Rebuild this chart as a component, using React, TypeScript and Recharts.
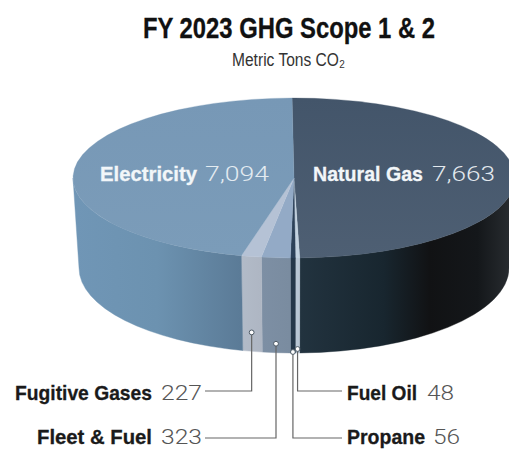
import React from "react";
import { PieChart, Pie } from "recharts";

const categories = ["Natural Gas", "Fuel Oil", "Propane", "Fleet & Fuel", "Fugitive Gases", "Electricity"];
const emissions = [7663, 48, 56, 323, 227, 7094];
const valueLabels = ["7,663", "48", "56", "323", "227", "7,094"];

const tableData = categories.map((name, i) => ({ name, value: emissions[i], valueLabel: valueLabels[i] }));

const topColors = ["url(#top0)", "#c3d2e0", "#2c4159", "#93aac6", "#b5c2d5", "url(#top5)"];
const wallColors = ["url(#wall0)", "#b8c6d4", "#243749", "url(#wall3)", "url(#wall4)", "url(#wall5)"];

const RX = 221;
const RY = 80;
const BOTTOM_RX = 215;
const BOTTOM_RY = 85;
const BOTTOM_DY = 90;

const CN = "'Liberation Sans Narrow', 'Liberation Sans', sans-serif";
const LIGHT = "Roboto, 'Open Sans', sans-serif";

const rad = (a: number) => (a * Math.PI) / 180;

function SliceShape(props: any) {
  const { cx, cy, startAngle, endAngle, index } = props;
  const pt = (a: number, rx: number, ry: number, oy: number) =>
    `${cx + rx * Math.cos(rad(a))} ${cy + oy - ry * Math.sin(rad(a))}`;
  const large = Math.abs(startAngle - endAngle) > 180 ? 1 : 0;
  const top = `M${cx} ${cy} L${pt(startAngle, RX, RY, 0)} A${RX} ${RY} 0 ${large} 1 ${pt(endAngle, RX, RY, 0)} Z`;
  const s = Math.min(startAngle, 0);
  const e = Math.max(endAngle, -180);
  const wall =
    s > e
      ? `M${pt(s, RX, RY, 0)} A${RX} ${RY} 0 0 1 ${pt(e, RX, RY, 0)} L${pt(e, BOTTOM_RX, BOTTOM_RY, BOTTOM_DY)} A${BOTTOM_RX} ${BOTTOM_RY} 0 0 0 ${pt(s, BOTTOM_RX, BOTTOM_RY, BOTTOM_DY)} Z`
      : null;
  return (
    <g>
      {wall && <path d={wall} fill={wallColors[index]} stroke={wallColors[index]} strokeWidth={0.4} />}
      <path d={top} fill={topColors[index]} stroke={topColors[index]} strokeWidth={0.3} />
    </g>
  );
}

const labelLayout: Record<string, any> = {
  "Natural Gas": { x: 313, w: 110, vx: 432, vw: 63, y: 181, fill: "#f2f6f9", vfill: "#e3e9ee", size: 21 },
  Electricity: { x: 100, w: 97, vx: 205, vw: 64, y: 181, fill: "#f2f6f9", vfill: "#e3ebf1", size: 21 },
  "Fugitive Gases": { x: 15, w: 137, vx: 161, vw: 41, y: 400, fill: "#1a1a1a", vfill: "#555", size: 21, ly: 391, lx: 205, dotY: 19 },
  "Fleet & Fuel": { x: 37, w: 115, vx: 161, vw: 41, y: 444, fill: "#1a1a1a", vfill: "#555", size: 21, ly: 438, lx: 205, dotY: 9 },
  "Fuel Oil": { x: 347, w: 70, vx: 427, vw: 27, y: 400, fill: "#1a1a1a", vfill: "#555", size: 21, ly: 391, lx: 342, dotY: 4 },
  Propane: { x: 347, w: 78, vx: 433, vw: 27, y: 444, fill: "#1a1a1a", vfill: "#555", size: 21, ly: 438, lx: 342, dotY: 1 },
};

function SliceLabel(props: any) {
  const { cx, cy, midAngle, name, payload } = props;
  const l = labelLayout[name];
  let leader = null;
  if (l.ly) {
    const px = cx + BOTTOM_RX * Math.cos(rad(midAngle)) * 1.02;
    const py = cy + BOTTOM_DY - BOTTOM_RY * Math.sin(rad(midAngle)) - l.dotY;
    leader = (
      <g>
        <path d={`M${px} ${py} V${l.ly} H${l.lx}`} fill="none" stroke="#666" strokeWidth={1.2} />
        <circle cx={px} cy={py} r={2.4} fill="#fff" stroke="#4d5a66" strokeWidth={1} />
      </g>
    );
  }
  return (
    <g>
      {leader}
      <text x={l.x} y={l.y} textLength={l.w} lengthAdjust="spacingAndGlyphs" fontFamily={CN} fontWeight={700} fontSize={l.size} fill={l.fill} stroke={l.fill} strokeWidth={0.3}>
        {name}
      </text>
      <text x={l.vx} y={l.y} textLength={l.vw} lengthAdjust="spacingAndGlyphs" fontFamily={LIGHT} fontWeight={300} fontSize={l.size} fill={l.vfill}>
        {payload.valueLabel}
      </text>
    </g>
  );
}

export default function App() {
  return (
    <div style={{ position: "absolute", left: 0, top: 0, width: 509, height: 449, overflow: "hidden", background: "#fff" }}>
      <PieChart width={509} height={449} margin={{ top: 0, right: 0, bottom: 0, left: 0 }}>
        <defs>
          <linearGradient id="top0" x1="0" y1="0" x2="0" y2="1">
            <stop offset="0" stopColor="#43556a" />
            <stop offset="1" stopColor="#4e5f73" />
          </linearGradient>
          <linearGradient id="top5" x1="0" y1="0" x2="0" y2="1">
            <stop offset="0" stopColor="#7798b6" />
            <stop offset="1" stopColor="#7b9cb9" />
          </linearGradient>
          <linearGradient id="wall0" gradientUnits="userSpaceOnUse" x1="300" y1="0" x2="509" y2="0">
            <stop offset="0" stopColor="#22333f" />
            <stop offset="0.4" stopColor="#18262f" />
            <stop offset="0.62" stopColor="#111214" />
            <stop offset="0.85" stopColor="#14171a" />
            <stop offset="1" stopColor="#272b2f" />
          </linearGradient>
          <linearGradient id="wall3" gradientUnits="userSpaceOnUse" x1="262" y1="0" x2="289" y2="0">
            <stop offset="0" stopColor="#7d8fa4" />
            <stop offset="1" stopColor="#7a8ca0" />
          </linearGradient>
          <linearGradient id="wall4" gradientUnits="userSpaceOnUse" x1="240" y1="0" x2="262" y2="0">
            <stop offset="0" stopColor="#b2bbc8" />
            <stop offset="1" stopColor="#aeb6c3" />
          </linearGradient>
          <linearGradient id="wall5" gradientUnits="userSpaceOnUse" x1="75" y1="0" x2="240" y2="0">
            <stop offset="0" stopColor="#7096b6" />
            <stop offset="0.5" stopColor="#6c92b0" />
            <stop offset="1" stopColor="#5b7b97" />
          </linearGradient>
        </defs>
        <text x={143} y={38} textLength={292} lengthAdjust="spacingAndGlyphs" fontFamily={CN} fontWeight={700} fontSize={29} fill="#111" stroke="#111" strokeWidth={0.3}>
          FY 2023 GHG Scope 1 &amp; 2
        </text>
        <text x={232} y={66} textLength={113} lengthAdjust="spacingAndGlyphs" fontFamily={CN} fontSize={18} fill="#333">
          Metric Tons CO₂
        </text>
        <Pie
          data={tableData}
          dataKey="value"
          nameKey="name"
          cx={294}
          cy={178}
          innerRadius={0}
          outerRadius={RX}
          startAngle={90.5}
          endAngle={-269.5}
          paddingAngle={0}
          stroke="none"
          isAnimationActive={false}
          shape={SliceShape}
          label={SliceLabel}
          labelLine={false}
        />
      </PieChart>
    </div>
  );
}
